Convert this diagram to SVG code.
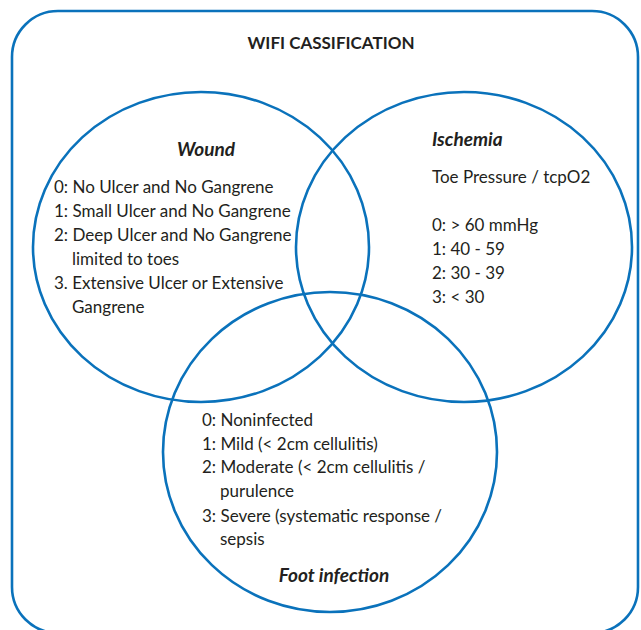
<svg xmlns="http://www.w3.org/2000/svg" width="641" height="630" viewBox="0 0 641 630">
<style>
.sh{fill:none;stroke:#0a72bb;stroke-width:2.6}
text{font-family:Lato,"Open Sans",sans-serif;fill:#231f20;font-size:17px}
.h{font-weight:bold;font-style:italic;font-size:19px}
.t{font-weight:bold;font-size:17px}
</style>
<rect width="641" height="630" fill="#ffffff"/>
<g id="frame">
<rect class="sh" x="12" y="11" width="626" height="622" rx="46"/>
<text class="t" x="331" y="49" text-anchor="middle">WIFI CASSIFICATION</text>
</g>
<g id="wound">
<ellipse class="sh" cx="201" cy="247" rx="168" ry="155"/>
<text class="h" x="206" y="156" text-anchor="middle">Wound</text>
<text x="54" y="193">0: No Ulcer and No Gangrene</text>
<text x="54" y="217">1: Small Ulcer and No Gangrene</text>
<text x="54" y="241">2: Deep Ulcer and No Gangrene</text>
<text x="72" y="265">limited to toes</text>
<text x="54" y="289">3. Extensive Ulcer or Extensive</text>
<text x="72" y="313">Gangrene</text>
</g>
<g id="ischemia">
<ellipse class="sh" cx="464" cy="247" rx="168" ry="155"/>
<text class="h" x="432" y="146">Ischemia</text>
<text x="432" y="183">Toe Pressure / tcpO2</text>
<text x="432" y="231">0: &gt; 60 mmHg</text>
<text x="432" y="255">1: 40 - 59</text>
<text x="432" y="279">2: 30 - 39</text>
<text x="432" y="303">3: &lt; 30</text>
</g>
<g id="foot">
<ellipse class="sh" cx="330" cy="452" rx="167" ry="160"/>
<text x="202" y="426">0: Noninfected</text>
<text x="202" y="450">1: Mild (&lt; 2cm cellulitis)</text>
<text x="202" y="473">2: Moderate (&lt; 2cm cellulitis /</text>
<text x="220" y="497">purulence</text>
<text x="202" y="522">3: Severe (systematic response /</text>
<text x="220" y="545">sepsis</text>
<text class="h" x="334" y="582" text-anchor="middle">Foot infection</text>
</g>
<g id="connectors"/>
</svg>
